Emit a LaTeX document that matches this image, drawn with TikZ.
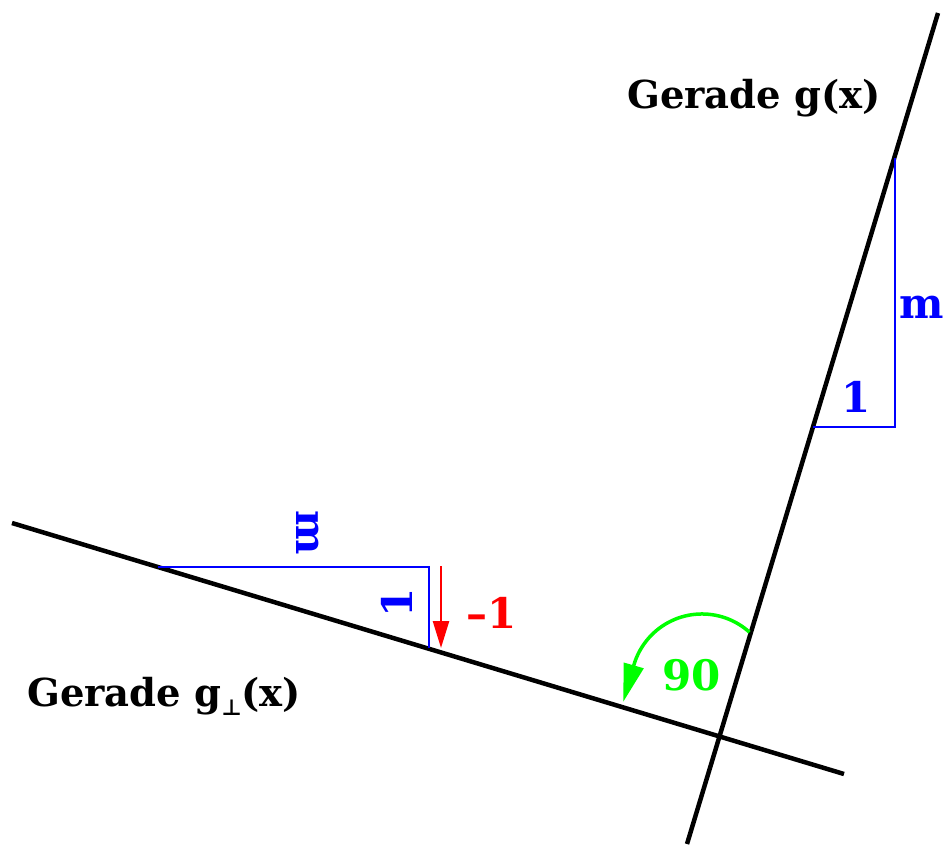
\documentclass[tikz,border=0pt]{standalone}
\usepackage{fontspec}
\setmainfont{DejaVu Serif}
\newfontfamily\symfont{DejaVu Sans}
\usetikzlibrary{arrows.meta}
\definecolor{myblue}{RGB}{0,0,255}
\definecolor{myred}{RGB}{255,0,0}
\definecolor{mygreen}{RGB}{0,255,0}
\begin{document}
\begin{tikzpicture}[x=1pt,y=-1pt,
  axisline/.style={line width=4.5pt,black},
  tri/.style={line width=2.5pt,myblue,line join=miter},
  bigtxt/.style={inner sep=0pt,font=\fontsize{42}{50}\selectfont\bfseries},
  nametxt/.style={inner sep=0pt,anchor=base west,font=\fontsize{38.5}{44}\selectfont\bfseries}]
\useasboundingbox (0,0) rectangle (945,844);
% lines
\coordinate (gA) at (938,13);
\coordinate (gB) at (687,844);
\coordinate (pA) at (12,523);
\coordinate (pB) at (844,774);
\draw[axisline] (gA) -- (gB);
\draw[axisline] (pA) -- (pB);
% right triangle
\coordinate (r1) at (813,427);
\coordinate (r2) at (895,427);
\coordinate (r3) at (895,158);
\draw[tri] (r1) -- (r2) -- (r3);
% left triangle
\coordinate (l1) at (158,567);
\coordinate (l2) at (429,567);
\coordinate (l3) at (429,648);
\draw[tri] (l1) -- (l2) -- (l3);
% red arrow
\coordinate (ra) at (441,566);
\coordinate (rb) at (441,648);
\draw[line width=2.5pt,myred,-{Triangle[length=27pt,width=16pt]}] (ra) -- (rb);
% green arc
\coordinate (gs) at (749.5,632.2);
\draw[line width=3.5pt,mygreen,-{Triangle[length=38pt,width=20pt]}] (gs) arc[start angle=-48,end angle=-164,radius=71] -- ++(-10.5,36.5);
% labels
\node[nametxt] (lg) at (627,108) {Gerade g(x)};
\node[nametxt] (lp) at (27,706) {Gerade g\raisebox{-9pt}{\symfont\bfseries\fontsize{22}{22}\selectfont ⊥}(x)};
\node[bigtxt,anchor=base east,text=myblue] (rm) at (944,318) {m};
\node[bigtxt,anchor=base,text=myblue] (r1l) at (856.5,412) {1};
\node[bigtxt,rotate=-90,text=myblue] (lm) at (308,533) {m};
\node[bigtxt,rotate=90,text=myblue] (l1l) at (397,603) {1};
\node[bigtxt,anchor=base,text=myred] (mone) at (491.5,628) {–1};
\node[bigtxt,anchor=base,text=mygreen] (ninety) at (691.5,690) {90};
\end{tikzpicture}
\end{document}
